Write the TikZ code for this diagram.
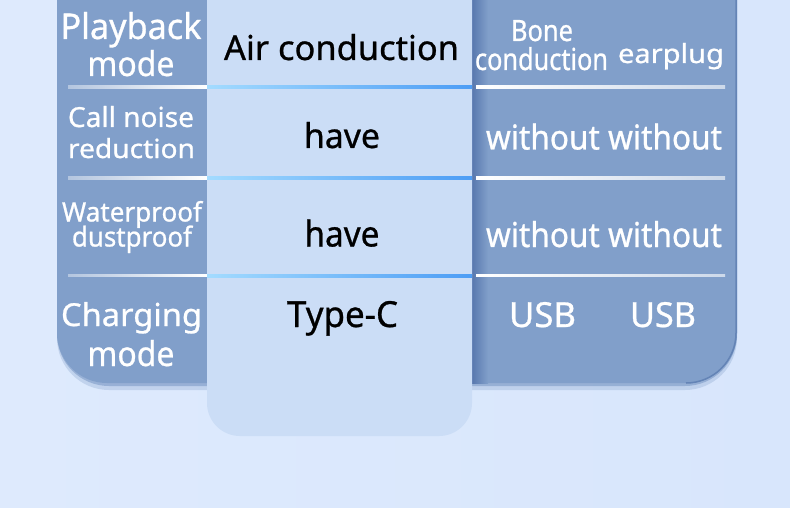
\documentclass[tikz,border=0pt]{standalone}
\usepackage{fontspec}
\setmainfont{Noto Sans}[FakeBold=0.8]
\usepackage{graphicx}
\definecolor{bgc}{HTML}{D8E6FC}
\definecolor{bgl}{HTML}{DEEAFD}
\definecolor{darkp}{HTML}{819FCA}
\definecolor{darke}{HTML}{5878AE}
\definecolor{midp}{HTML}{CBDDF6}
\definecolor{sepa}{HTML}{A3DBFF}
\definecolor{sepb}{HTML}{4D9DF5}
\definecolor{shad}{HTML}{7090C0}
\newcommand\fw[3]{\resizebox{#1pt}{#2pt}{\fontsize{30}{30}\selectfont\bfseries #3}}
\tikzset{
  wlbl/.style={inner sep=0pt, anchor=base, text=white},
  blbl/.style={inner sep=0pt, anchor=base, text=black},
  lsep/.style={left color=darkp!60!white, right color=white},
  msep/.style={left color=sepa, right color=sepb},
  rsep/.style={left color=white, right color=darkp!40!white}
}
\begin{document}
\begin{tikzpicture}[x=1pt,y=-1pt]
\useasboundingbox (0,0) rectangle (790,508);
% background
\shade[left color=bgl, right color=bgc] (0,0) rectangle (790,508);
% shadows of dark panel
\fill[shad, opacity=0.25, rounded corners=52pt] (57,-60) rectangle (737,390);
\fill[shad, opacity=0.5, rounded corners=52pt] (57,-60) rectangle (737,386);
% dark panel
\fill[darkp, rounded corners=50pt] (57,-60) rectangle (737,383);
% right edge darker line
\draw[darke!70!darkp, line width=1.5pt] (736,-5) -- (736,333) arc[start angle=0, end angle=-90, radius=50pt];
% left edge shading of right part
\shade[left color=darke, right color=darkp] (472,-5) rectangle (488,383);
% middle panel
\fill[midp, rounded corners=33pt] (207,-60) rectangle (472,436);
% separators
\foreach \yy in {87,178,275.5} {
  \shade[lsep] (68,\yy-1.2) rectangle (207,\yy+1.2);
  \shade[msep] (207,\yy-1.5) rectangle (472,\yy+1.5);
  \shade[rsep] (476,\yy-1.2) rectangle (725,\yy+1.2);
}
% left column
\node[wlbl] (l1a) at (131,39) {\fw{141}{27}{Playback}};
\node[wlbl] (l1b) at (131,76) {\fw{87}{26}{mode}};
\node[wlbl] (l2a) at (131,127) {\fw{126}{21}{Call noise}};
\node[wlbl] (l2b) at (131.5,158) {\fw{127}{20}{reduction}};
\node[wlbl] (l3a) at (132,221.5) {\fw{140}{20.5}{Waterproof}};
\node[wlbl] (l3b) at (132,246.5) {\fw{120}{21}{dustproof}};
\node[wlbl] (l4a) at (131.5,326) {\fw{141}{24}{Charging}};
\node[wlbl] (l4b) at (131,366) {\fw{87}{26}{mode}};
% middle column
\node[blbl] (m1) at (341.5,60) {\fw{235}{26}{Air conduction}};
\node[blbl] (m2) at (342,148) {\fw{76}{26}{have}};
\node[blbl] (m3) at (342,246.5) {\fw{75}{27}{have}};
\node[blbl] (m4) at (342.5,327) {\fw{111}{26}{Type-C}};
% right columns
\node[wlbl] (r1a) at (542,41) {\fw{62}{21}{Bone}};
\node[wlbl] (r1b) at (541.5,70) {\fw{133}{23}{conduction}};
\node[wlbl] (r1c) at (671,63) {\fw{106}{20}{earplug}};
\node[wlbl] (r2) at (604,149.5) {\fw{236}{26}{without without}};
\node[wlbl] (r3) at (604,247) {\fw{236}{26}{without without}};
\node[wlbl] (r4a) at (542.5,327) {\fw{67}{25}{USB}};
\node[wlbl] (r4b) at (663,327) {\fw{66}{25}{USB}};
\end{tikzpicture}
\end{document}
